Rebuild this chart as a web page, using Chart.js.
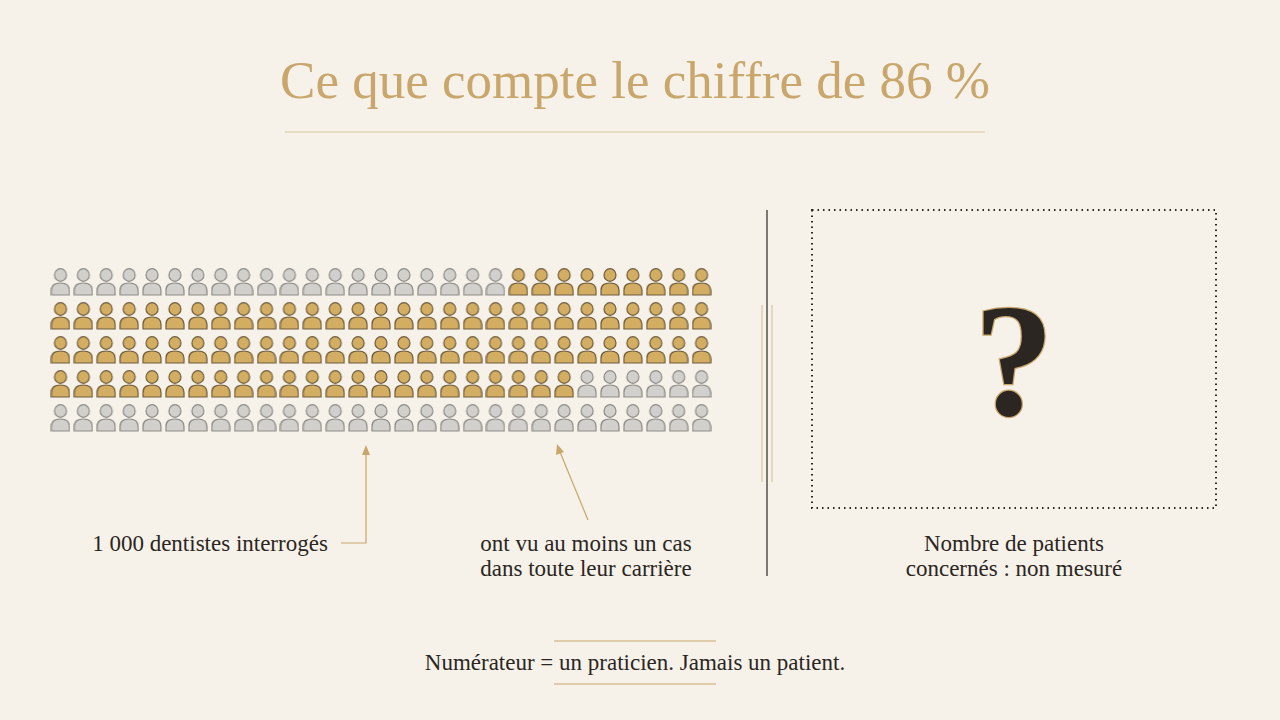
<!DOCTYPE html>
<html>
<head>
<meta charset="utf-8">
<script src="https://cdn.jsdelivr.net/npm/chart.js@4"></script>
<style>
  body { margin: 0; width: 1280px; height: 720px; background: #f6f2ea; font-family: "Liberation Serif", "DejaVu Serif", serif; color: #2b2622; position: relative; overflow: hidden; }
  .abs { position: absolute; }
  #title { left: 0; width: 1270px; top: 50px; text-align: center; font-size: 53px; color: #c9a66b; }
  .lbl { font-size: 23px; text-align: center; line-height: 25px; }
  #gridWrap { left: 38px; top: 254px; width: 686px; height: 192px; }
</style>
</head>
<body>
<div id="title" class="abs">Ce que compte le chiffre de 86 %</div>
<svg class="abs" style="left:0;top:0" width="1280" height="720">
  <line x1="285" y1="132" x2="985" y2="132" stroke="#d8c49a" stroke-width="1.2"/>
  <line x1="767" y1="210" x2="767" y2="576" stroke="#2b2622" stroke-width="1.2"/>
  <line x1="762" y1="305" x2="762" y2="482" stroke="#d8c49a" stroke-width="1.2"/>
  <line x1="772" y1="305" x2="772" y2="482" stroke="#d8c49a" stroke-width="1.2"/>
  <rect x="812" y="210" width="404" height="298" fill="none" stroke="#2b2622" stroke-width="2" stroke-dasharray="1.5 4"/>
  <polyline points="341,543 366,543 366,450" fill="none" stroke="#c9a66b" stroke-width="1.2"/>
  <polygon points="366,445 362,455 370,455" fill="#c9a66b"/>
  <line x1="588" y1="520" x2="560" y2="452" stroke="#c9a66b" stroke-width="1.2"/>
  <polygon points="557,444 556,455 564,452" fill="#c9a66b"/>
  <line x1="554" y1="641" x2="716" y2="641" stroke="#c9a66b" stroke-width="1"/>
  <line x1="554" y1="684" x2="716" y2="684" stroke="#c9a66b" stroke-width="1"/>
  <text x="1014" y="415" text-anchor="middle" font-family="Liberation Serif" font-weight="bold" font-size="160" fill="#2b2622" stroke="#c9a66b" stroke-width="2.5" paint-order="stroke">?</text>
</svg>
<div class="abs lbl" style="left:60px;width:300px;top:531px;">1 000 dentistes interrogés</div>
<div class="abs lbl" style="left:436px;width:300px;top:531px;">ont vu au moins un cas<br>dans toute leur carrière</div>
<div class="abs lbl" style="left:864px;width:300px;top:531px;">Nombre de patients<br>concernés : non mesuré</div>
<div class="abs lbl" style="left:335px;width:600px;top:650px;">Numérateur = un praticien. Jamais un patient.</div>
<div id="gridWrap" class="abs"><canvas id="grid"></canvas></div>
<script>
// 29 columns x 5 rows of respondent icons; gold = "ont vu un cas"
const columns = 29;
const rows = 5;
const goldFrom = [20, 0, 0, 0, 29];
const goldTo = [28, 28, 28, 22, -1];

function personIcon(fill, stroke) {
  const c = document.createElement('canvas');
  c.width = 20; c.height = 28;
  const g = c.getContext('2d');
  g.fillStyle = fill; g.strokeStyle = stroke; g.lineWidth = 1.2;
  g.beginPath(); g.ellipse(10, 7, 6, 6.3, 0, 0, Math.PI * 2); g.fill(); g.stroke();
  g.beginPath();
  g.moveTo(1, 27); g.lineTo(1, 22.5);
  g.bezierCurveTo(1, 16.5, 4.5, 15, 10, 15);
  g.bezierCurveTo(15.5, 15, 19, 16.5, 19, 22.5);
  g.lineTo(19, 27); g.closePath(); g.fill(); g.stroke();
  return c;
}
const goldIcon = personIcon('#d3ad62', '#6e5c3c');
const greyIcon = personIcon('#d2d0cc', '#8d8a85');

const goldPts = [], greyPts = [];
for (let r = 0; r < rows; r++) {
  for (let c = 0; c < columns; c++) {
    (c >= goldFrom[r] && c <= goldTo[r] ? goldPts : greyPts).push({ x: c, y: r });
  }
}

new Chart(document.getElementById('grid'), {
  type: 'scatter',
  data: {
    datasets: [
      { data: greyPts, pointStyle: greyIcon, pointRadius: 10 },
      { data: goldPts, pointStyle: goldIcon, pointRadius: 10 }
    ]
  },
  options: {
    responsive: true,
    maintainAspectRatio: false,
    animation: false,
    layout: { padding: 0 },
    plugins: { legend: { display: false }, tooltip: { enabled: false } },
    scales: {
      x: { display: false, min: -0.5, max: columns - 0.5 },
      y: { display: false, min: -0.5, max: rows - 0.5, reverse: true }
    }
  }
});
</script>
</body>
</html>
